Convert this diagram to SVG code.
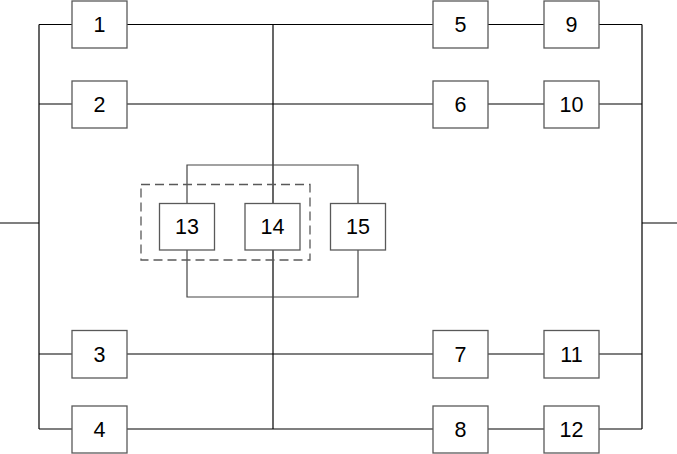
<svg xmlns="http://www.w3.org/2000/svg" width="677" height="454" viewBox="0 0 677 454">
<style>
.b{fill:#fff;stroke:#595959;stroke-width:1.3}
.t{font-family:"Liberation Sans",Arial,sans-serif;font-size:21.5px;fill:#000;text-anchor:middle}
.c{fill:none;stroke:#000;stroke-width:1.2}
.g{fill:none;stroke:#444;stroke-width:1.2}
.d{fill:none;stroke:#595959;stroke-width:1.3;stroke-dasharray:9,5}
</style>
<rect width="677" height="454" fill="#fff"/>
<g id="connectors">
<path class="c" d="M0,223H39M39,24.5V429M39,24.5H72M39,104H72M39,354H72M39,429H72"/>
<path class="c" d="M127,24.5H433M127,104H433M127,354H433M127,429H433"/>
<path class="c" d="M488,24.5H544M488,104H544M488,354H544M488,429H544"/>
<path class="c" d="M599,24.5H642M599,104H642M599,354H642M599,429H642M642,24.5V429M642,223H677"/>
<path class="c" d="M273,24.5V429"/>
<path class="g" d="M187,203V165H358V203M187,250V297H358V250"/>
</g>
<rect id="group" class="d" x="141" y="184.5" width="169" height="75.5"/>
<g id="n1"><rect class="b" x="72" y="1" width="55" height="47"/><text class="t" x="99.5" y="31.7">1</text></g>
<g id="n2"><rect class="b" x="72" y="81" width="55" height="47"/><text class="t" x="99.5" y="111.5">2</text></g>
<g id="n3"><rect class="b" x="72" y="330.5" width="55" height="47.5"/><text class="t" x="99.5" y="361.5">3</text></g>
<g id="n4"><rect class="b" x="72" y="406" width="55" height="47"/><text class="t" x="99.5" y="436.5">4</text></g>
<g id="n5"><rect class="b" x="433" y="1" width="55" height="47"/><text class="t" x="460.5" y="31.7">5</text></g>
<g id="n6"><rect class="b" x="433" y="81" width="55" height="47"/><text class="t" x="460.5" y="111.5">6</text></g>
<g id="n7"><rect class="b" x="433" y="330.5" width="55" height="47.5"/><text class="t" x="460.5" y="361.5">7</text></g>
<g id="n8"><rect class="b" x="433" y="406" width="55" height="47"/><text class="t" x="460.5" y="436.5">8</text></g>
<g id="n9"><rect class="b" x="544" y="1" width="55" height="47"/><text class="t" x="571.5" y="31.7">9</text></g>
<g id="n10"><rect class="b" x="544" y="81" width="55" height="47"/><text class="t" x="571.5" y="111.5">10</text></g>
<g id="n11"><rect class="b" x="544" y="330.5" width="55" height="47.5"/><text class="t" x="571.5" y="361.5">11</text></g>
<g id="n12"><rect class="b" x="544" y="406" width="55" height="47"/><text class="t" x="571.5" y="436.5">12</text></g>
<g id="n13"><rect class="b" x="159.5" y="203.5" width="55" height="46.5"/><text class="t" x="187" y="234">13</text></g>
<g id="n14"><rect class="b" x="245" y="203.5" width="55" height="46.5"/><text class="t" x="272.5" y="234">14</text></g>
<g id="n15"><rect class="b" x="330.5" y="203.5" width="55" height="46.5"/><text class="t" x="358" y="234">15</text></g>
</svg>
